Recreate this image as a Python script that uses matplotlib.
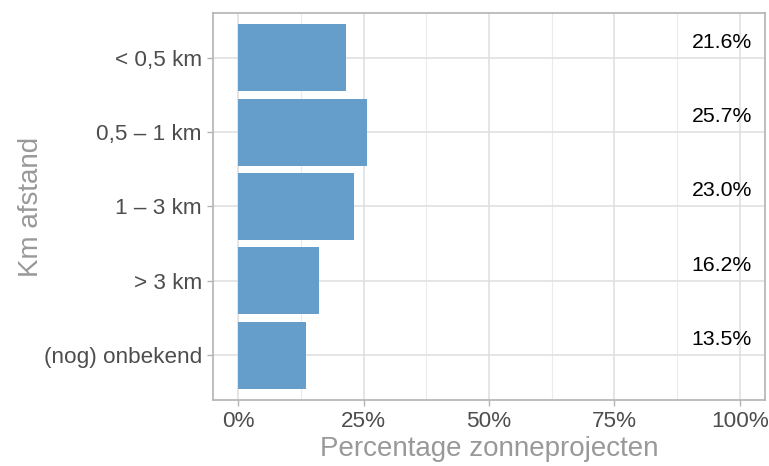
import matplotlib.pyplot as plt
import numpy as np

# data
categories = ['< 0,5 km', '0,5 – 1 km', '1 – 3 km', '> 3 km', '(nog) onbekend']
percentages = [21.6, 25.7, 23.0, 16.2, 13.5]
label_texts = ['21.6%', '25.7%', '23.0%', '16.2%', '13.5%']
x_ticks = [0, 25, 50, 75, 100]
x_ticklabels = ['0%', '25%', '50%', '75%', '100%']

plt.rcParams['font.family'] = ['Liberation Sans', 'DejaVu Sans']

fig = plt.figure(figsize=(7.69, 4.66), dpi=100)
ax = fig.add_axes([213/769, 1 - 400/466, (765-213)/769, (400-13)/466])

# y-positions: first category on top
ypos = np.arange(len(categories))[::-1] + 1

# grid (ggplot theme_light style)
for x in np.arange(12.5, 100, 25):
    ax.axvline(x, color='#ebebeb', lw=0.8, zorder=0)
for x in x_ticks:
    ax.axvline(x, color='#dedede', lw=1.1, zorder=0)
for y in ypos:
    ax.axhline(y, color='#dedede', lw=1.1, zorder=0)

ax.barh(ypos, percentages, height=0.9, color='#669ecb', zorder=2)

for y, t in zip(ypos, label_texts):
    ax.text(102.4, y + 0.21, t, ha='right', va='center', fontsize=15.3,
            color='black', zorder=3)

ax.set_xlim(-5, 105)
ax.set_ylim(0.4, 5.6)
ax.set_xticks(x_ticks)
ax.set_xticklabels(x_ticklabels)
ax.set_yticks(ypos)
ax.set_yticklabels(categories)
ax.tick_params(axis='both', colors='#b3b3b3', labelcolor='#4d4d4d',
               labelsize=16.2, length=4, width=1)
ax.tick_params(axis='x', pad=4)
ax.tick_params(axis='y', pad=4)

for s in ax.spines.values():
    s.set_color('#b3b3b3')
    s.set_linewidth(1.2)

ax.set_xlabel('Percentage zonneprojecten', fontsize=20, color='#999999', labelpad=3)
ax.set_ylabel('Km afstand', fontsize=20, color='#999999', labelpad=0)

fig.savefig('out.png', dpi=100)
